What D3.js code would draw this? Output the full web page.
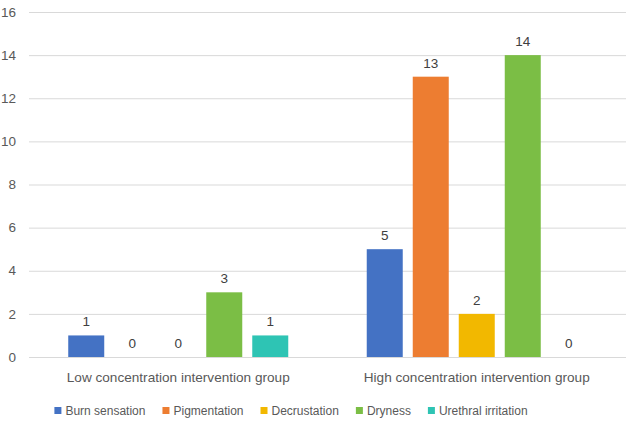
<!DOCTYPE html>
<html>
<head>
<meta charset="utf-8">
<script src="https://cdn.jsdelivr.net/npm/d3@7"></script>
<style>
  body { margin: 0; background: #fff; }
  #graf { width: 630px; height: 422px; }
  text { font-family: "Liberation Sans", Arial, sans-serif; }
</style>
</head>
<body>
<div id="graf"></div>
<script>
const grupos = ["Low concentration intervention group", "High concentration intervention group"]
const series = ["Burn sensation", "Pigmentation", "Decrustation", "Dryness", "Urethral irritation"]
const bajo = [1, 0, 0, 3, 1]
const alto = [5, 13, 2, 14, 0]
const ticksY = [0, 2, 4, 6, 8, 10, 12, 14, 16]
const colores = ["#4472C4", "#ED7D31", "#F2B800", "#7BBE45", "#2EC4B4"]

const anchoTotal = 630
const altoTotal = 422

const svg = d3.select("#graf")
  .append("svg")
  .attr("width", anchoTotal)
  .attr("height", altoTotal)

const valores = [bajo, alto]
const datos = grupos.map((g, i) => ({
  grupo: g,
  barras: series.map((s, j) => ({ serie: s, valor: valores[i][j], color: colores[j] })),
}))

const x0 = d3.scaleBand().domain(grupos).range([29, 626])
const x1 = d3.scaleBand()
  .domain(series)
  .range([0, x0.bandwidth()])
  .paddingInner(10 / 46)
  .paddingOuter(0.853)
const y = d3.scaleLinear().domain([0, 16]).range([357, 12])

// lineas de grilla
svg.append("g")
  .selectAll("line")
  .data(ticksY)
  .enter()
  .append("line")
  .attr("x1", 29)
  .attr("x2", 626)
  .attr("y1", (d) => y(d) + 0.5)
  .attr("y2", (d) => y(d) + 0.5)
  .attr("stroke", "#D9D9D9")
  .attr("stroke-width", 1)

// etiquetas eje y
svg.append("g")
  .selectAll("text")
  .data(ticksY)
  .enter()
  .append("text")
  .attr("x", 16)
  .attr("y", (d) => y(d))
  .attr("dy", "0.35em")
  .attr("text-anchor", "end")
  .attr("font-size", 13.5)
  .attr("fill", "#595959")
  .text((d) => d)

const g = svg.append("g")
  .selectAll("g")
  .data(datos)
  .enter()
  .append("g")
  .attr("transform", (d) => `translate(${x0(d.grupo)},0)`)

g.selectAll("rect")
  .data((d) => d.barras)
  .enter()
  .append("rect")
  .attr("x", (d) => x1(d.serie))
  .attr("width", x1.bandwidth())
  .attr("y", (d) => y(d.valor))
  .attr("height", (d) => y(0) - y(d.valor))
  .attr("fill", (d) => d.color)

g.selectAll("text.valor")
  .data((d) => d.barras)
  .enter()
  .append("text")
  .attr("class", "valor")
  .attr("x", (d) => x1(d.serie) + x1.bandwidth() / 2)
  .attr("y", (d) => y(d.valor) - 9)
  .attr("text-anchor", "middle")
  .attr("font-size", 13.5)
  .attr("fill", "#404040")
  .text((d) => d.valor)

// categorias
svg.append("g")
  .selectAll("text")
  .data(grupos)
  .enter()
  .append("text")
  .attr("x", (d) => x0(d) + x0.bandwidth() / 2)
  .attr("y", 381.5)
  .attr("text-anchor", "middle")
  .attr("font-size", 13.6)
  .attr("fill", "#595959")
  .text((d) => d)

// leyenda
const leyenda = svg.append("g")
const items = leyenda.selectAll("g")
  .data(series)
  .enter()
  .append("g")

items.append("rect")
  .attr("width", 7)
  .attr("height", 7)
  .attr("y", 407)
  .attr("fill", (d, i) => colores[i])

items.append("text")
  .attr("x", 11)
  .attr("y", 415)
  .attr("font-size", 12)
  .attr("fill", "#595959")
  .text((d) => d)

const sep = 17
let pos = 0
const posiciones = []
items.each(function () {
  posiciones.push(pos)
  const w = d3.select(this).select("text").node().getComputedTextLength()
  pos += 11 + w + sep
})
const anchoLeyenda = pos - sep
const inicio = (anchoTotal - anchoLeyenda) / 2 - 24
items.attr("transform", (d, i) => `translate(${inicio + posiciones[i]},0)`)
</script>
</body>
</html>
